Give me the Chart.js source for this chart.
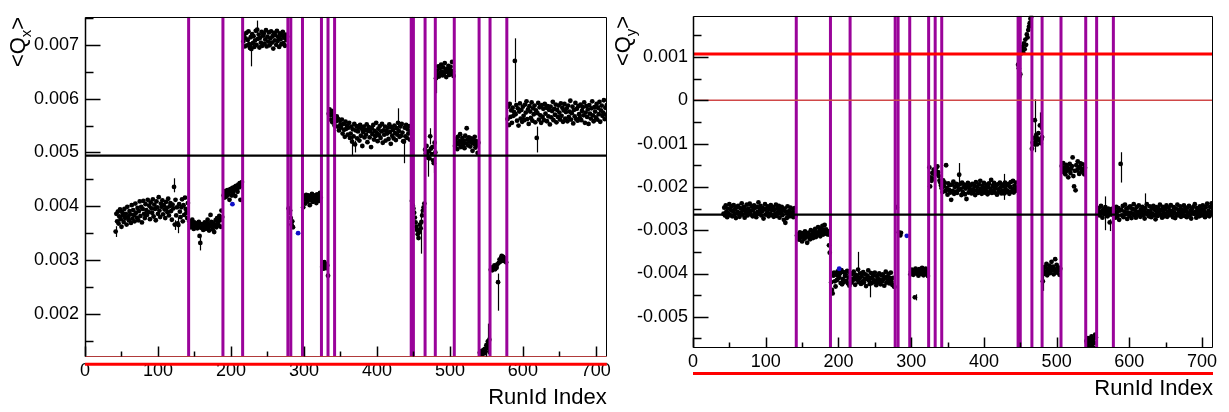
<!DOCTYPE html>
<html>
<head>
<meta charset="utf-8">
<script src="https://cdn.jsdelivr.net/npm/chart.js@4.4.1/dist/chart.umd.min.js"></script>
<style>
  body { margin: 0; background: #fff; width: 1229px; height: 412px; overflow: hidden; position: relative; }
  canvas { position: absolute; top: 0; }
  #qxChart { left: 0; }
  #qyChart { left: 614px; }
</style>
</head>
<body>
<canvas id="qxChart" width="614" height="412"></canvas>
<canvas id="qyChart" width="615" height="412"></canvas>
<script>
// values are stored in units of 1e-5 (e.g. 385 -> 0.00385)
const runBoundaries = [142, 189, 216, 278, 282, 298, 324, 333, 342, 447, 450, 466, 480, 506, 540, 555, 578];
const xTickValues = [0, 100, 200, 300, 400, 500, 600, 700];
const xTickLabels = ['0', '100', '200', '300', '400', '500', '600', '700'];

// ---------- <Qx> ----------
const qxTickValues = [0.002, 0.003, 0.004, 0.005, 0.006, 0.007];
const qxTickLabels = ['0.002', '0.003', '0.004', '0.005', '0.006', '0.007'];
const qxSegStart = [42, 143, 190, 217, 279, 299, 325, 334, 448, 466, 481, 507, 541, 556, 579];
const qxSeg1 = [353, 386, 372, 390, 368, 381, 394, 376, 362, 389, 383, 371, 395, 378, 386, 366, 399, 380, 374, 391,
  385, 369, 402, 377, 393, 384, 372, 405, 388, 379, 397, 374, 391, 409, 382, 399, 370, 395, 410, 386,
  378, 404, 393, 384, 412, 389, 401, 376, 407, 396, 388, 413, 381, 403, 395, 374, 409, 398, 386, 417,
  392, 380, 405, 399, 411, 385, 402, 394, 378, 408, 397, 389, 414, 383, 400, 406, 391, 375, 403, 396,
  436, 366, 412, 383, 398, 368, 365, 404, 390, 380, 398, 413, 372, 402, 384, 416, 395, 388, 378, 406];
const qxSeg2 = [372, 366, 361, 369, 375, 363, 358, 370, 366, 362, 368, 359, 364, 371, 345, 332, 360, 367, 362, 356,
  365, 370, 358, 363, 369, 375, 360, 355, 366, 384, 371, 362, 357, 368, 352, 365, 374, 361, 378, 370,
  365, 382, 374, 362, 392, 380];
const qxSeg3 = [420, 416, 428, 424, 418, 430, 426, 422, 412, 432, 428, 420, 434, 425, 430, 436, 419, 438, 432, 427,
  440, 435, 443, 412, 438, 445];
const qxSeg4 = [706, 718, 697, 712, 722, 699, 709, 725, 701, 694, 714, 692, 720, 703, 716, 696, 708, 726, 700, 728,
  711, 719, 695, 713, 704, 724, 698, 717, 721, 702, 710, 727, 697, 715, 706, 723, 699, 712, 725, 704,
  716, 693, 722, 708, 718, 700, 726, 707, 714, 696, 721, 710, 701, 717, 724, 703, 713, 698, 719, 709, 715];
const qxSeg5 = [396, 388, 392, 378, 366, 372, 361];
const qxSeg6 = [398, 412, 418, 405, 421, 414, 409, 420, 416, 402, 419, 411, 423, 408, 415, 420, 412, 417, 406, 422,
  414, 418, 410, 425, 416];
const qxSeg7 = [287, 292, 284, 296, 289, 293, 285, 290, 271];
const qxSeg8 = [572, 580, 561, 569, 577, 556, 571, 563, 550, 566, 558, 567, 548, 562, 541, 559, 552, 546, 561, 535,
  553, 542, 529, 557, 544, 550, 533, 546, 555, 527, 535, 548, 520, 543, 530, 553, 515, 541, 549, 526,
  539, 546, 522, 551, 531, 544, 512, 538, 548, 528, 542, 533, 552, 519, 540, 547, 528, 539, 510, 545,
  534, 551, 524, 540, 530, 555, 536, 521, 544, 532, 549, 527, 539, 553, 518, 541, 533, 548, 522, 540,
  535, 546, 525, 552, 538, 516, 547, 531, 542, 526, 550, 536, 523, 545, 533, 555, 540, 529, 548, 531,
  553, 537, 521, 520, 546, 530, 551, 527, 543, 535, 549, 524, 540];
const qxSeg9 = [410, 402, 396, 388, 379, 370, 362, 356, 348, 341, 352, 366, 359, 371, 383, 392, 398, 405];
const qxSeg10 = [505, 498, 512, 494, 490, 502, 489, 530, 507, 497, 510, 485, 480, 518, 500];
const qxSeg11 = [638, 652, 645, 660, 641, 656, 648, 663, 650, 643, 658, 647, 666, 652, 640, 655, 649, 661, 644, 653,
  659, 646, 668, 651, 642];
const qxSeg12 = [512, 525, 518, 506, 529, 515, 521, 534, 510, 519, 527, 514, 522, 508, 531, 517, 545, 524, 513, 528,
  520, 511, 526, 518, 503, 523, 516, 529, 509, 521, 514, 499, 518];
const qxSeg13 = [128, 126, 131, 124, 129, 133, 127, 135, 130, 142, 138, 149, 136, 152];
const qxSeg14 = [282, 284, 281, 287, 285, 290, 283, 288, 286, 292, 259, 295, 301, 297, 304, 308, 299, 306, 302, 298,
  303, 296];
const qxSeg15 = [562, 585, 551, 590, 566, 578, 555, 583, 568, 575, 670,
  571, 588, 559, 582, 550, 576, 591, 563, 579, 557, 585, 568, 560, 589, 574, 595, 562, 580, 553, 586,
  576, 564, 593, 559, 582, 571, 587, 556, 578, 527, 573, 592, 561, 584, 569, 555, 588, 566, 581, 560,
  590, 572, 583, 558, 586, 567, 579, 552, 585, 565, 577, 594, 560, 581, 570, 589, 556, 579, 566, 587,
  574, 561, 591, 568, 583, 557, 578, 590, 563, 575, 582, 558, 587, 566, 576, 596, 561, 573, 585, 554,
  579, 567, 592, 562, 581, 559, 586, 571, 564, 589, 560, 577, 584, 569, 593, 555, 574, 586, 566, 580,
  553, 588, 572, 563, 582, 595, 569, 558, 584, 576, 565, 590, 561, 583, 571, 594, 557, 578, 587, 568,
  574, 597, 562, 583, 570, 588];
const qxBlueRuns = [202, 292];
const qxBlueVals = [404, 350];
// [run, low, high]
const qxErrBars = [[42, 343, 363], [122, 426, 452], [123, 356, 374], [128, 350, 380], [158, 318, 345],
  [228, 660, 700], [236, 722, 745], [366, 495, 528], [370, 500, 522], [429, 548, 582], [437, 480, 525],
  [461, 312, 390], [470, 455, 505], [473, 515, 545], [478, 462, 495], [481, 610, 645], [552, 125, 182],
  [554, 130, 172], [566, 206, 275], [589, 593, 712], [619, 500, 548]];
const qxMean = 494;
const qxLowRed = 106.5;

// ---------- <Qy> ----------
const qyTickValues = [-0.005, -0.004, -0.003, -0.002, -0.001, 0, 0.001];
const qyTickLabels = ['-0.005', '-0.004', '-0.003', '-0.002', '-0.001', '0', '0.001'];
const qySegStart = [42, 143, 190, 280, 283, 299, 325, 343, 447, 466, 481, 507, 541, 556, 579];
const qySeg1 = [-262, -248, -266, -243, -257, -270, -250, -261, -240, -265, -253, -245, -268, -256, -242, -263, -251, -272, -247, -258,
  -244, -262, -269, -249, -259, -238, -264, -254, -246, -271, -252, -260, -241, -266, -250, -257, -239, -263, -255, -245,
  -268, -253, -243, -261, -248, -270, -246, -258, -236, -262, -251, -244, -266, -256, -249, -273, -252, -240, -264, -250,
  -259, -245, -268, -251, -261, -242, -265, -254, -247, -269, -253, -262, -241, -267, -249, -258, -244, -271, -252, -260,
  -246, -265, -255, -276, -250, -283, -258, -272, -245, -263, -256, -268, -248, -260, -266, -251, -270, -259, -249, -267];
const qySeg2 = [-312, -318, -309, -322, -305, -316, -311, -326, -307, -314, -320, -303, -317, -310, -329, -306, -315, -312, -321, -300,
  -313, -308, -318, -302, -311, -297, -316, -305, -309, -293, -307, -301, -314, -296, -304, -290, -310, -299, -288, -306,
  -298, -309, -302, -310, -335, -352];
const qySeg3 = [-420, -438, -446, -405, -398, -418, -430, -403, -415, -395, -411, -408, -400, -422, -392, -425, -413, -397, -419, -406,
  -402, -417, -394, -423, -409, -428, -399, -412, -421, -401, -415, -396, -410, -426, -403, -414, -407, -391, -420, -411,
  -400, -424, -406, -418, -397, -421, -412, -402, -429, -413, -405, -393, -416, -424, -410, -399, -422, -412, -404, -419,
  -398, -417, -427, -406, -411, -420, -400, -414, -425, -404, -418, -402, -413, -428, -409, -396, -421, -407, -416, -401,
  -423, -411, -398, -419, -426, -410, -429, -431];
const qySeg4 = [-247];
const qySeg5 = [-305, -309, -312, -306];
const qySeg6 = [-402, -395, -391, -398, -403, -396, -455, -389, -400, -394, -397, -405, -390, -399, -393, -401, -387, -396, -404, -392,
  -398, -389, -402, -394, -406];
const qySeg7 = [-155, -199, -178, -186, -168, -182, -160, -172, -164, -157, -170, -153, -166, -175, -185, -190, -197, -203];
const qySeg8 = [-212, -185, -198, -190, -210, -150, -203, -218, -192, -207, -196, -213, -230, -195, -209, -188, -216, -200, -211, -193,
  -214, -198, -207, -172, -194, -205, -219, -190, -212, -201, -195, -217, -204, -228, -199, -191, -213, -202, -208, -196,
  -215, -193, -206, -211, -198, -219, -189, -208, -200, -214, -194, -210, -186, -204, -216, -197, -207, -191, -213, -201,
  -209, -195, -217, -200, -192, -212, -205, -184, -214, -198, -208, -191, -213, -203, -196, -218, -194, -206, -211, -190,
  -201, -215, -195, -209, -199, -215, -190, -205, -212, -196, -210, -193, -216, -200, -189, -211, -204, -186, -213, -197,
  -207, -190, -202, -209];
const qySeg9 = [82, 74, 55, 60, 108, 115, 124, 110, 131, 118, 140, 128, 152, 145, 162, 170, 178, 188, 192];
const qySeg10 = [-112, -98, -87, -102, -46, -95, -80, -102, -88, -76, -92, -58, -99, -90, -85];
const qySeg11 = [-418, -392, -401, -385, -396, -378, -404, -389, -395, -382, -399, -387, -373, -393, -384, -402, -390, -367, -395, -380,
  -398, -386, -392, -403, -389];
const qySeg12 = [-152, -160, -145, -166, -157, -171, -149, -163, -155, -178, -161, -147, -168, -158, -152, -132, -175, -199, -163, -208,
  -150, -162, -141, -157, -170, -154, -146, -165, -159, -148, -162, -171, -156];
const qySeg13 = [-556, -561, -549, -566, -553, -570, -558, -545, -563, -552, -572, -560, -541, -548];
const qySeg14 = [-262, -255, -249, -266, -258, -244, -260, -271, -252, -257, -263, -247, -259, -254, -268, -250, -261, -282, -256, -264,
  -251, -258];
const qySeg15 = [-262, -250, -271, -246, -258, -267, -249, -276, -255, -147,
  -253, -266, -244, -270, -257, -241, -263, -250, -274, -259, -248, -267, -245, -260, -272, -251, -262, -240, -265, -254,
  -271, -247, -259, -264, -243, -257, -269, -252, -261, -246, -266, -255, -273, -249, -260, -240, -263, -256, -268, -245,
  -258, -270, -250, -262, -244, -266, -253, -275, -247, -259, -267, -249, -256, -241, -264, -254, -271, -246, -258, -268,
  -251, -263, -243, -269, -257, -248, -265, -255, -242, -262, -256, -270, -247, -259, -272, -250, -263, -241, -266, -254,
  -260, -245, -269, -252, -264, -258, -243, -267, -249, -257, -270, -248, -261, -244, -265, -255, -273, -251, -259, -246,
  -262, -240, -257, -271, -249, -263, -254, -268, -245, -260, -266, -252, -243, -264, -256, -270, -247, -261, -239, -265,
  -255, -268, -246, -259, -238, -263, -251];
const qyBlueRuns = [201, 294];
const qyBlueVals = [-389, -313];
const qyErrBars = [[227, -410, -350], [243, -455, -412], [306, -462, -448], [366, -195, -145], [428, -230, -170],
  [470, -120, 2], [477, -68, -28], [481, -440, -405], [566, -300, -222], [573, -302, -275], [588, -190, -120],
  [621, -262, -215]];
const qyMean = -264;
const qyUpRed = 107;
const qyLowRed = -631;

const FONT = '"Liberation Sans", Arial, Helvetica, sans-serif';

function buildPoints(starts, segs) {
    let pts = [];
    segs.forEach((seg, k) => {
        seg.forEach((v, i) => pts.push({ x: starts[k] + i, y: v * 1e-5 }));
    });
    return pts;
}

function hLine(value, color, width, clip) {
    return {
        type: 'line',
        data: [{ x: 0, y: value }, { x: 715, y: value }],
        borderColor: color,
        borderWidth: width,
        pointRadius: 0,
        clip: clip,
        order: 1
    };
}

function vLine(run, yMin, yMax) {
    return {
        type: 'line',
        data: [{ x: run, y: yMin }, { x: run, y: yMax }],
        borderColor: '#9a049a',
        borderWidth: 3,
        pointRadius: 0,
        order: 2
    };
}

// error bars drawn behind the markers
const errBarPlugin = {
    id: 'errBars',
    beforeDatasetsDraw(chart, args, opts) {
        const { ctx, scales: { x, y } } = chart;
        ctx.save();
        ctx.strokeStyle = '#000';
        ctx.lineWidth = 1.2;
        (opts.bars || []).forEach(([run, lo, hi]) => {
            const px = Math.round(x.getPixelForValue(run)) + 0.5;
            ctx.beginPath();
            ctx.moveTo(px, y.getPixelForValue(lo * 1e-5));
            ctx.lineTo(px, y.getPixelForValue(hi * 1e-5));
            ctx.stroke();
        });
        ctx.restore();
    }
};

// ROOT style frame + inward ticks + y title
function minorValues(majors, lo, hi) {
    let step = majors[1] - majors[0];
    let out = [];
    for (let i = -1; i < majors.length; i++) {
        let v = (i < 0 ? majors[0] : majors[i]) + (i < 0 ? -step / 2 : step / 2);
        if (v > lo && v < hi) out.push(v);
    }
    return out;
}

const framePlugin = {
    id: 'rootFrame',
    afterDatasetsDraw(chart, args, opts) {
        const { ctx, chartArea: a, scales: { x, y } } = chart;
        ctx.save();
        ctx.lineWidth = 1;
        ctx.strokeStyle = '#000';
        const L = Math.round(a.left) + 0.5, R = Math.round(a.right) - 0.5;
        const T = Math.round(a.top) + 0.5, B = Math.round(a.bottom) - 0.5;
        ctx.beginPath();
        ctx.moveTo(L, B); ctx.lineTo(L, T); ctx.lineTo(R, T); ctx.lineTo(R, B);
        ctx.stroke();
        ctx.lineWidth = 1.5;
        ctx.beginPath(); ctx.moveTo(L, B); ctx.lineTo(L, T); ctx.stroke();
        ctx.lineWidth = 1;
        ctx.strokeStyle = opts.bottomColor;
        ctx.beginPath(); ctx.moveTo(L, B); ctx.lineTo(R, B); ctx.stroke();

        ctx.strokeStyle = '#000';
        ctx.lineWidth = 1.5;
        const yMaj = y.ticks.map(t => t.value);
        yMaj.forEach(v => {
            const py = Math.round(y.getPixelForValue(v)) + 0.5;
            ctx.beginPath(); ctx.moveTo(L, py); ctx.lineTo(L + 15, py); ctx.stroke();
        });
        minorValues(yMaj, y.min, y.max).forEach(v => {
            const py = Math.round(y.getPixelForValue(v)) + 0.5;
            ctx.beginPath(); ctx.moveTo(L, py); ctx.lineTo(L + 8, py); ctx.stroke();
        });
        const xMaj = x.ticks.map(t => t.value);
        xMaj.forEach(v => {
            const px = Math.round(x.getPixelForValue(v)) + 0.5;
            ctx.beginPath(); ctx.moveTo(px, B); ctx.lineTo(px, B - 10); ctx.stroke();
        });
        minorValues(xMaj, x.min, x.max).forEach(v => {
            const px = Math.round(x.getPixelForValue(v)) + 0.5;
            ctx.beginPath(); ctx.moveTo(px, B); ctx.lineTo(px, B - 5); ctx.stroke();
        });
        ctx.restore();
    },
    afterDraw(chart, args, opts) {
        // y axis title: "<Q" + subscript + ">" rotated, ending at the top of the axis
        const ctx = chart.ctx;
        const big = '22px ' + FONT, small = '15px ' + FONT;
        ctx.save();
        ctx.fillStyle = '#000';
        ctx.font = big;
        const wL = ctx.measureText('<').width, wQ = ctx.measureText('Q').width, wR = ctx.measureText('>').width;
        ctx.font = small;
        const wS = ctx.measureText(opts.sub).width;
        const total = wL + wQ + wS + wR;
        ctx.translate(opts.baseX, chart.chartArea.top + total);
        ctx.rotate(-Math.PI / 2);
        ctx.textBaseline = 'alphabetic';
        ctx.textAlign = 'left';
        ctx.font = big;
        ctx.fillText('<Q', 0, 0);
        ctx.font = small;
        ctx.fillText(opts.sub, wL + wQ, 6);
        ctx.font = big;
        ctx.fillText('>', wL + wQ + wS, 0);
        ctx.restore();
    }
};

function makeChart(id, cfg) {
    const datasets = [];
    datasets.push({
        type: 'scatter',
        data: buildPoints(cfg.starts, cfg.segs),
        backgroundColor: '#000',
        borderWidth: 0,
        pointRadius: 2.4,
        order: 10
    });
    datasets.push({
        type: 'scatter',
        data: cfg.blueRuns.map((r, i) => ({ x: r, y: cfg.blueVals[i] * 1e-5 })),
        backgroundColor: '#1010c8',
        borderWidth: 0,
        pointRadius: 2.4,
        order: 9
    });
    runBoundaries.forEach(r => datasets.push(vLine(r, cfg.yMin, cfg.yMax)));
    cfg.hLines.forEach(h => datasets.push(hLine(h[0], h[1], h[2], h[3])));

    return new Chart(document.getElementById(id), {
        type: 'scatter',
        data: { datasets: datasets },
        options: {
            responsive: false,
            animation: false,
            events: [],
            layout: { padding: cfg.padding },
            plugins: {
                legend: { display: false },
                tooltip: { enabled: false },
                errBars: { bars: cfg.errBars },
                rootFrame: { bottomColor: cfg.bottomColor, sub: cfg.sub, baseX: cfg.titleX }
            },
            scales: {
                x: {
                    type: 'linear',
                    min: 0,
                    max: 715,
                    afterBuildTicks: s => { s.ticks = xTickValues.map(v => ({ value: v })); },
                    afterFit: s => { s.height = cfg.xHeight; },
                    ticks: {
                        autoSkip: false,
                        maxRotation: 0,
                        padding: 3,
                        color: '#000',
                        font: { family: FONT, size: 18 },
                        callback: (v, i) => xTickLabels[i]
                    },
                    grid: { display: false, drawTicks: false },
                    border: { display: false },
                    title: {
                        display: true,
                        text: 'RunId Index',
                        align: 'end',
                        color: '#000',
                        font: { family: FONT, size: 22 },
                        padding: { top: 0, bottom: cfg.titlePad }
                    }
                },
                y: {
                    type: 'linear',
                    min: cfg.yMin,
                    max: cfg.yMax,
                    afterBuildTicks: s => { s.ticks = cfg.yTicks.map(v => ({ value: v })); },
                    afterFit: s => { s.width = cfg.yWidth; },
                    ticks: {
                        autoSkip: false,
                        padding: cfg.yPad,
                        color: '#000',
                        font: { family: FONT, size: 18 },
                        callback: (v, i) => cfg.yLabels[i]
                    },
                    grid: { display: false, drawTicks: false },
                    border: { display: false }
                }
            }
        },
        plugins: [errBarPlugin, framePlugin]
    });
}

makeChart('qxChart', {
    starts: qxSegStart,
    segs: [qxSeg1, qxSeg2, qxSeg3, qxSeg4, qxSeg5, qxSeg6, qxSeg7, qxSeg8, qxSeg9, qxSeg10, qxSeg11, qxSeg12, qxSeg13, qxSeg14, qxSeg15],
    blueRuns: qxBlueRuns,
    blueVals: qxBlueVals,
    errBars: qxErrBars,
    yMin: 0.0012,
    yMax: 0.00752,
    yTicks: qxTickValues,
    yLabels: qxTickLabels,
    hLines: [
        [qxMean * 1e-5, '#000', 2.2, undefined],
        [qxLowRed * 1e-5, '#ff0000', 3, false]
    ],
    padding: { top: 13, right: 6, left: 0, bottom: 0 },
    xHeight: 55,
    yWidth: 85,
    yPad: 6,
    titlePad: 1,
    bottomColor: '#b03a3a',
    sub: 'x',
    titleX: 25
});

makeChart('qyChart', {
    starts: qySegStart,
    segs: [qySeg1, qySeg2, qySeg3, qySeg4, qySeg5, qySeg6, qySeg7, qySeg8, qySeg9, qySeg10, qySeg11, qySeg12, qySeg13, qySeg14, qySeg15],
    blueRuns: qyBlueRuns,
    blueVals: qyBlueVals,
    errBars: qyErrBars,
    yMin: -0.00572,
    yMax: 0.00195,
    yTicks: qyTickValues,
    yLabels: qyTickLabels,
    hLines: [
        [0, '#d04848', 1.5, undefined],
        [qyUpRed * 1e-5, '#ff0000', 3, undefined],
        [qyMean * 1e-5, '#000', 2.2, undefined],
        [qyLowRed * 1e-5, '#ff0000', 3, false]
    ],
    padding: { top: 6, right: 16, left: 0, bottom: 0 },
    xHeight: 64,
    yWidth: 79,
    yPad: 5,
    titlePad: 10,
    bottomColor: '#000',
    sub: 'y',
    titleX: 16
});
</script>
</body>
</html>
